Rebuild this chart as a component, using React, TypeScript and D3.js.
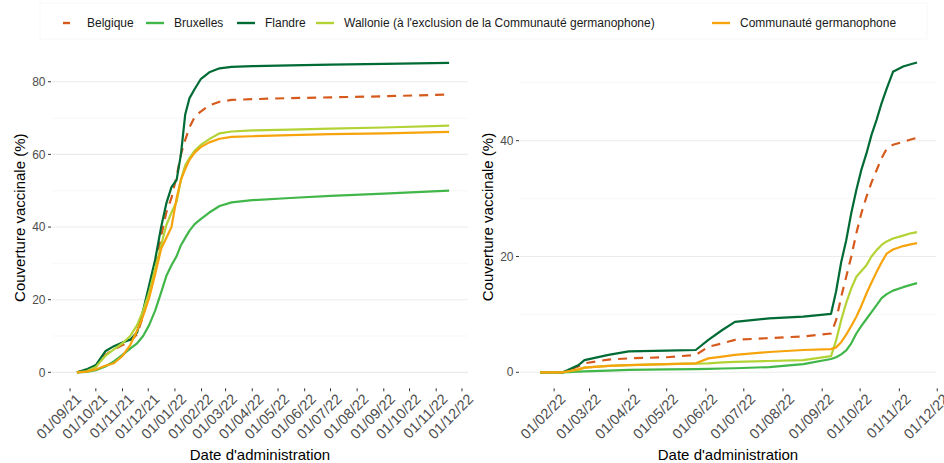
import React from 'react';
import * as d3 from 'd3';

// legend order = drawing order
const seriesNames = [
  'Belgique',
  'Bruxelles',
  'Flandre',
  "Wallonie (à l'exclusion de la Communauté germanophone)",
  'Communauté germanophone'
];
const seriesColors = ['#d65a1c', '#41b649', '#006b35', '#b3d335', '#f6a30c'];

// left panel
const leftDates = [
  '2021-09-09', '2021-09-20', '2021-10-01', '2021-10-12', '2021-10-22', '2021-11-01',
  '2021-11-10', '2021-11-18', '2021-11-25', '2021-12-02', '2021-12-09', '2021-12-16',
  '2021-12-22', '2021-12-28', '2022-01-03', '2022-01-08', '2022-01-13', '2022-01-18',
  '2022-01-24', '2022-01-31', '2022-02-10', '2022-02-22', '2022-03-08', '2022-04-01',
  '2022-05-15', '2022-07-01', '2022-09-01', '2022-11-16'
];
const leftBelgique = [0, 0.5, 1.5, 4.8, 6.3, 7.5, 8.5, 10.5, 15.5, 22, 29, 37.5, 44, 48, 54, 60, 64, 67.5, 70.3, 71.8, 73.5, 74.5, 75, 75.2, 75.5, 75.7, 76, 76.5];
const leftBruxelles = [0, 0.1, 0.6, 1.6, 3, 4.8, 6.5, 8, 10, 13, 17, 22, 26.5, 29.5, 32, 35, 37, 39, 40.8, 42.2, 44, 45.8, 46.8, 47.4, 48, 48.6, 49.2, 50];
const leftFlandre = [0, 0.8, 2, 5.8, 7.2, 8.2, 9, 11, 17, 24, 31, 40, 46.5, 51, 53, 60, 71, 75.5, 78, 80.7, 82.6, 83.7, 84.1, 84.3, 84.5, 84.7, 84.9, 85.2];
const leftWallonie = [0, 0.3, 1.5, 4.5, 6.3, 8, 10, 13, 17, 22, 28.5, 35, 40.5, 44, 47, 53, 57, 59, 61, 62.6, 64.2, 65.8, 66.3, 66.6, 66.8, 67.1, 67.4, 67.9];
const leftGermanophone = [0, 0.2, 0.8, 1.8, 2.5, 4.5, 7.5, 11.5, 15.5, 20.5, 27, 34, 37, 40, 48, 53, 56, 58.5, 60.5, 62, 63.3, 64.3, 64.8, 65, 65.3, 65.6, 65.8, 66.2];

// right panel
const rightDates = [
  '2022-01-21', '2022-02-08', '2022-02-20', '2022-02-25', '2022-03-16', '2022-04-01',
  '2022-05-01', '2022-05-24', '2022-06-03', '2022-06-14', '2022-06-24', '2022-07-21',
  '2022-08-17', '2022-09-08', '2022-09-12', '2022-09-16', '2022-09-20', '2022-09-24',
  '2022-09-28', '2022-10-02', '2022-10-06', '2022-10-10', '2022-10-14', '2022-10-18',
  '2022-10-22', '2022-10-27', '2022-11-04', '2022-11-10', '2022-11-15'
];
const rightBelgique = [0, 0, 1.0, 1.55, 2.2, 2.4, 2.6, 3.0, 4.4, 5.0, 5.6, 5.9, 6.2, 6.7, 9, 13, 16.5, 20, 24, 27.5, 30.3, 32.8, 34.9, 37, 38.6, 39.3, 39.8, 40.2, 40.5];
const rightBruxelles = [0, 0, 0.1, 0.15, 0.3, 0.4, 0.5, 0.55, 0.6, 0.65, 0.7, 0.9, 1.4, 2.3, 2.6, 3.1, 3.8, 5.0, 6.7, 8, 9.2, 10.4, 11.6, 12.8, 13.5, 14.1, 14.7, 15.1, 15.4];
const rightFlandre = [0, 0, 1.2, 2.1, 3.0, 3.6, 3.75, 3.85, 5.6, 7.3, 8.7, 9.3, 9.6, 10.1, 14, 19, 22.8, 27.5, 31.5, 35, 37.8, 41, 43.6, 46.5, 49, 51.9, 52.8, 53.2, 53.5];
const rightWallonie = [0, 0, 0.4, 0.8, 1.1, 1.25, 1.4, 1.5, 1.55, 1.7, 1.8, 1.95, 2.1, 2.8, 5.5, 9, 12, 14.5, 16.5, 17.5, 18.5, 20, 21.1, 22, 22.6, 23.1, 23.6, 24, 24.2];
const rightGermanophone = [0, 0, 0.5, 0.8, 1.1, 1.25, 1.4, 1.55, 2.4, 2.7, 3.0, 3.5, 3.85, 4.0, 4.3, 5.2, 6.5, 8, 9.6, 11.5, 13.6, 15.5, 17.3, 19, 20.5, 21.2, 21.8, 22.1, 22.3];

const leftYTicks = [0, 20, 40, 60, 80];
const leftYMinor = [10, 30, 50, 70];
const rightYTicks = [0, 20, 40];
const rightYMinor = [10, 30, 50];

const parse = d3.timeParse('%Y-%m-%d');
const fmt = d3.timeFormat('%d/%m/%y');
const font = "'Liberation Sans', Arial, sans-serif";

interface PanelProps {
  left: number;
  right: number;
  top: number;
  bottom: number;
  xDomain: [string, string];
  yDomain: [number, number];
  firstTick: string;
  lastTick: string;
  yTicks: number[];
  yMinor: number[];
  dates: string[];
  values: number[][];
}

function Panel(props: PanelProps) {
  const { left, right, top, bottom, dates, values } = props;

  const xScale = d3
    .scaleTime()
    .domain(props.xDomain.map(d => parse(d)!))
    .range([left, right]);

  const yScale = d3.scaleLinear().domain(props.yDomain).range([bottom, top]);

  const xTicks = d3.timeMonth.range(parse(props.firstTick)!, d3.timeDay.offset(parse(props.lastTick)!, 1));
  const parsedDates = dates.map(d => parse(d)!);

  const line = d3
    .line<number>()
    .x((d, i) => xScale(parsedDates[i]))
    .y(d => yScale(d));

  const yTitleX = left - 27;
  const midY = (top + bottom) / 2;

  return (
    <g>
      {props.yMinor.map(t => (
        <line key={'m' + t} x1={left} x2={right} y1={yScale(t)} y2={yScale(t)} stroke="#f2f2f2" strokeWidth={0.6} />
      ))}
      {props.yTicks.map(t => (
        <line key={'g' + t} x1={left} x2={right} y1={yScale(t)} y2={yScale(t)} stroke="#ebebeb" strokeWidth={1.1} />
      ))}

      {props.yTicks.map(t => (
        <g key={'y' + t}>
          <line x1={left - 4} x2={left - 1} y1={yScale(t)} y2={yScale(t)} stroke="#333" strokeWidth={1} />
          <text x={left - 6.5} y={yScale(t)} dy="0.35em" textAnchor="end" fontSize={12} fill="#4d4d4d" fontFamily={font}>
            {t}
          </text>
        </g>
      ))}

      {xTicks.map(t => (
        <g key={t.getTime()}>
          <line x1={xScale(t)} x2={xScale(t)} y1={bottom + 0.5} y2={bottom + 3.5} stroke="#333" strokeWidth={1} />
          <text
            transform={`translate(${xScale(t) + 5}, ${bottom + 5}) rotate(-45)`}
            dy="0.71em"
            textAnchor="end"
            fontSize={14.5}
            fill="#4d4d4d"
            fontFamily={font}
          >
            {fmt(t)}
          </text>
        </g>
      ))}

      {values.map((v, i) => (
        <path
          key={seriesNames[i]}
          d={line(v) || ''}
          fill="none"
          stroke={seriesColors[i]}
          strokeWidth={2.2}
          strokeDasharray={i === 0 ? '9,7' : undefined}
          strokeLinejoin="round"
        />
      ))}

      <text
        transform={`translate(${yTitleX}, ${midY}) rotate(-90)`}
        textAnchor="middle"
        fontSize={15}
        fill="#000"
        fontFamily={font}
      >
        Couverture vaccinale (%)
      </text>
      <text x={(left + right) / 2} y={460} textAnchor="middle" fontSize={15} fill="#000" fontFamily={font}>
        Date d'administration
      </text>
    </g>
  );
}

// legend key positions (x of key start)
const legendKeyX = [57, 146, 237, 316, 712];

function Legend() {
  const y = 23;
  return (
    <g>
      <rect x={40} y={3} width={887} height={36} fill="none" stroke="#f8f8f8" strokeWidth={1} />
      {seriesNames.map((name, i) => (
        <g key={name}>
          {i === 0 ? (
            <line x1={legendKeyX[i] + 6} x2={legendKeyX[i] + 13} y1={y} y2={y} stroke={seriesColors[i]} strokeWidth={2.4} />
          ) : (
            <line x1={legendKeyX[i]} x2={legendKeyX[i] + 18} y1={y} y2={y} stroke={seriesColors[i]} strokeWidth={2.4} />
          )}
          <text x={legendKeyX[i] + (i === 0 ? 30 : 28)} y={y} dy="0.35em" fontSize={12} fill="#1a1a1a" fontFamily={font}>
            {name}
          </text>
        </g>
      ))}
    </g>
  );
}

export default function App() {
  return (
    <svg width={944} height={463} style={{ position: 'absolute', left: 0, top: 0, background: '#fff' }}>
      <Legend />
      <Panel
        left={52}
        right={468}
        top={47.6}
        bottom={387.8}
        xDomain={['2021-08-11', '2022-12-08']}
        yDomain={[-4.26, 89.4]}
        firstTick="2021-09-01"
        lastTick="2022-12-01"
        yTicks={leftYTicks}
        yMinor={leftYMinor}
        dates={leftDates}
        values={[leftBelgique, leftBruxelles, leftFlandre, leftWallonie, leftGermanophone]}
      />
      <Panel
        left={520}
        right={936}
        top={46.3}
        bottom={387.8}
        xDomain={['2022-01-05', '2022-11-30']}
        yDomain={[-2.68, 56.3]}
        firstTick="2022-02-01"
        lastTick="2022-12-01"
        yTicks={rightYTicks}
        yMinor={rightYMinor}
        dates={rightDates}
        values={[rightBelgique, rightBruxelles, rightFlandre, rightWallonie, rightGermanophone]}
      />
    </svg>
  );
}
